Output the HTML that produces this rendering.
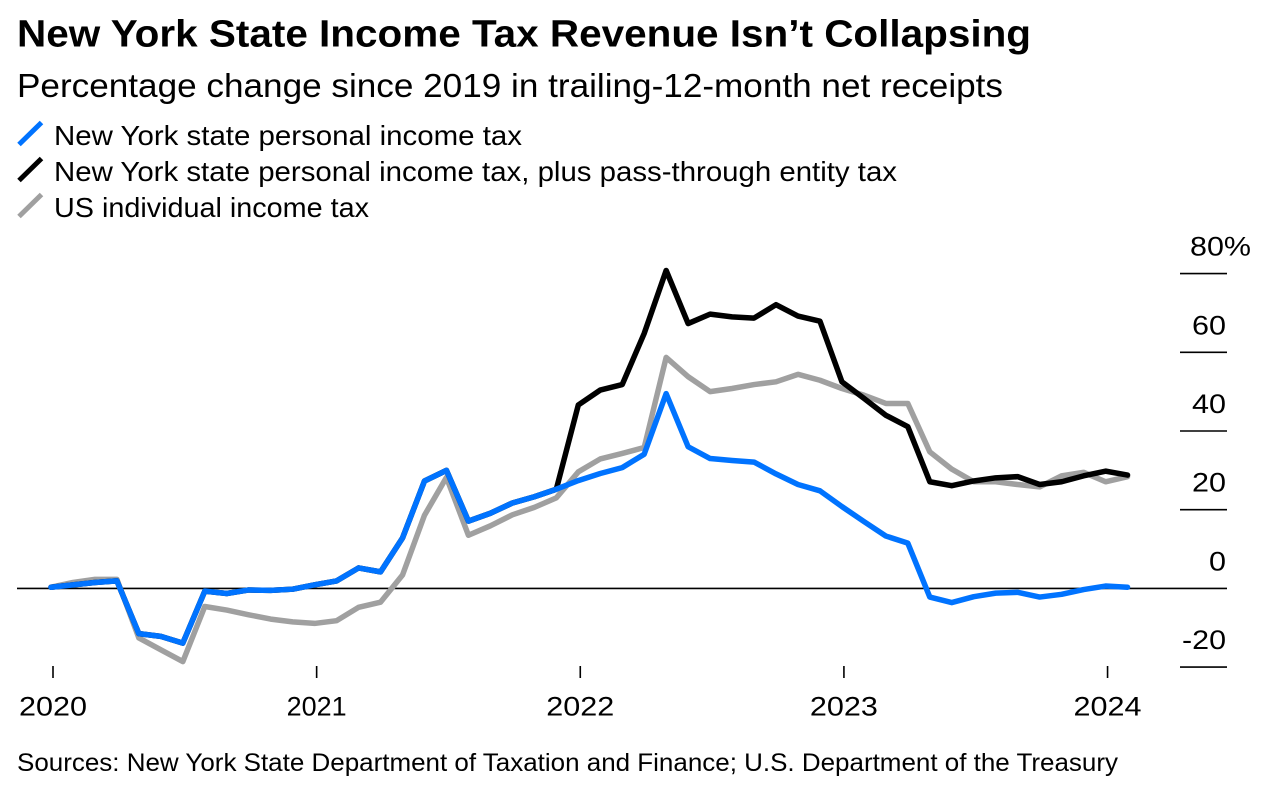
<!DOCTYPE html>
<html lang="en">
<head>
<meta charset="utf-8">
<title>New York State Income Tax Revenue Isn't Collapsing</title>
<style>
html,body{margin:0;padding:0;background:#fff;width:1264px;height:802px;overflow:hidden}
svg{display:block}
text{font-family:"Liberation Sans",sans-serif;fill:#000}
</style>
</head>
<body>
<svg id="chart" width="1264" height="802" viewBox="0 0 1264 802" xmlns="http://www.w3.org/2000/svg">
  <text x="17" y="46.5" font-size="38" font-weight="700" textLength="1014" lengthAdjust="spacingAndGlyphs">New York State Income Tax Revenue Isn’t Collapsing</text>
  <text x="17" y="97" font-size="33" textLength="986" lengthAdjust="spacingAndGlyphs">Percentage change since 2019 in trailing-12-month net receipts</text>

  <g>
    <g>
      <line x1="19" y1="144.5" x2="41.5" y2="122.5" stroke="#0073ff" stroke-width="5"/>
      <text x="54" y="145" font-size="28" textLength="468" lengthAdjust="spacingAndGlyphs">New York state personal income tax</text>
    </g>
    <g>
      <line x1="19" y1="180.5" x2="41.5" y2="158.5" stroke="#000" stroke-width="5"/>
      <text x="54" y="181" font-size="28" textLength="843" lengthAdjust="spacingAndGlyphs">New York state personal income tax, plus pass-through entity tax</text>
    </g>
    <g>
      <line x1="19" y1="216.5" x2="41.5" y2="194.5" stroke="#a0a0a0" stroke-width="5"/>
      <text x="54" y="217" font-size="28" textLength="315" lengthAdjust="spacingAndGlyphs">US individual income tax</text>
    </g>
  </g>

  <g id="y-axis"></g>
  <g id="x-axis"></g>
  <g id="series"></g>

  <text x="17" y="771" font-size="25" textLength="1101" lengthAdjust="spacingAndGlyphs">Sources: New York State Department of Taxation and Finance; U.S. Department of the Treasury</text>
</svg>

<script>
// Monthly observations, January 2020 (index 0) through February 2024
const nyPit = [0.3,0.9,1.5,1.9,-11.5,-12.2,-13.9,-0.7,-1.3,-0.4,-0.5,-0.2,0.9,1.9,5.2,4.2,12.8,27.3,30.0,17.1,19.1,21.7,23.3,25.2,27.4,29.2,30.7,34.1,49.5,36.0,33.0,32.5,32.1,29.1,26.4,24.8,20.8,17.0,13.3,11.5,-2.2,-3.6,-2.1,-1.2,-1.0,-2.2,-1.5,-0.3,0.6,0.3];
const nyPitPtet = [0.3,0.9,1.5,1.9,-11.5,-12.2,-13.9,-0.7,-1.3,-0.4,-0.5,-0.2,0.9,1.9,5.2,4.2,12.8,27.3,30.0,17.1,19.1,21.7,23.3,25.2,46.6,50.4,51.8,64.8,80.8,67.3,69.7,69.0,68.7,72.1,69.2,67.9,52.5,48.3,44.0,41.1,27.1,26.1,27.3,28.1,28.4,26.4,27.1,28.6,29.8,28.8];
const usIit = [0.3,1.5,2.3,2.3,-12.6,-15.6,-18.6,-4.6,-5.5,-6.7,-7.8,-8.5,-8.9,-8.2,-4.8,-3.5,3.4,18.6,28.2,13.5,15.9,18.7,20.6,23.0,29.6,32.9,34.3,35.8,58.7,53.8,50.0,50.8,51.8,52.5,54.4,52.9,50.8,49.1,47.0,47.0,34.7,30.3,27.1,27.1,26.4,25.8,28.6,29.5,27.1,28.4];
const yTickValues = [80,60,40,20,0,-20];
const yTickLabels = ["80%","60","40","20","0","-20"];
const xTickMonths = [0,12,24,36,48];
const xTickLabels = ["2020","2021","2022","2023","2024"];

const NS = "http://www.w3.org/2000/svg";
// Observations sit slightly before the start-of-year tick marks
function xScale(monthIndex){ return 51 + monthIndex * 21.97; }
function xTickScale(monthIndex){ return xScale(monthIndex) + 2; }
function yScale(value){ return 588.4 - value * 3.935; }
function labelWidth(label){
  let w = 0;
  for (const ch of label) { w += ch === "-" ? 10 : ch === "%" ? 27 : ch === "1" ? 9 : 17; }
  return w;
}
function make(tag, parent, attrs){
  const el = document.createElementNS(NS, tag);
  for (const k in attrs) { el.setAttribute(k, attrs[k]); }
  parent.appendChild(el);
  return el;
}

const yAxis = document.getElementById("y-axis");
const xAxis = document.getElementById("x-axis");
const seriesGroup = document.getElementById("series");

yTickValues.forEach(function(value, i){
  const y = yScale(value);
  const isZero = value === 0;
  const grid = make("line", yAxis, {x1: isZero ? 17 : 1180, x2: 1227, y1: y, y2: y, stroke: "#000", "stroke-width": 1.6});
  
  
  const label = yTickLabels[i];
  const hasPercent = label.indexOf("%") !== -1;
  const t = make("text", yAxis, {
    x: hasPercent ? 1190 : 1226,
    y: y - 18,
    "font-size": 27,
    "text-anchor": hasPercent ? "start" : "end",
    textLength: labelWidth(label),
    lengthAdjust: "spacingAndGlyphs"
  });
  
  
  t.textContent = label;
});

xTickMonths.forEach(function(month, i){
  const x = xTickScale(month);
  const tick = make("line", xAxis, {x1: x, x2: x, y1: 666, y2: 678, stroke: "#000", "stroke-width": 1.6});
  
  
  const label = xTickLabels[i];
  const t = make("text", xAxis, {
    x: x,
    y: 715.5,
    "font-size": 27,
    "text-anchor": "middle",
    textLength: labelWidth(label),
    lengthAdjust: "spacingAndGlyphs"
  });
  
  
  t.textContent = label;
});

function pathFor(values){
  return values.map(function(v, i){
    return (i === 0 ? "M" : "L") + xScale(i).toFixed(2) + " " + yScale(v).toFixed(2);
  }).join(" ");
}

const usLine = make("path", seriesGroup, {d: pathFor(usIit), fill: "none", stroke: "#a0a0a0", "stroke-width": 5.5, "stroke-linejoin": "round", "stroke-linecap": "round"});



const ptetLine = make("path", seriesGroup, {d: pathFor(nyPitPtet), fill: "none", stroke: "#000", "stroke-width": 5.5, "stroke-linejoin": "round", "stroke-linecap": "round"});



const pitLine = make("path", seriesGroup, {d: pathFor(nyPit), fill: "none", stroke: "#0073ff", "stroke-width": 5.5, "stroke-linejoin": "round", "stroke-linecap": "round"});


</script>
</body>
</html>
